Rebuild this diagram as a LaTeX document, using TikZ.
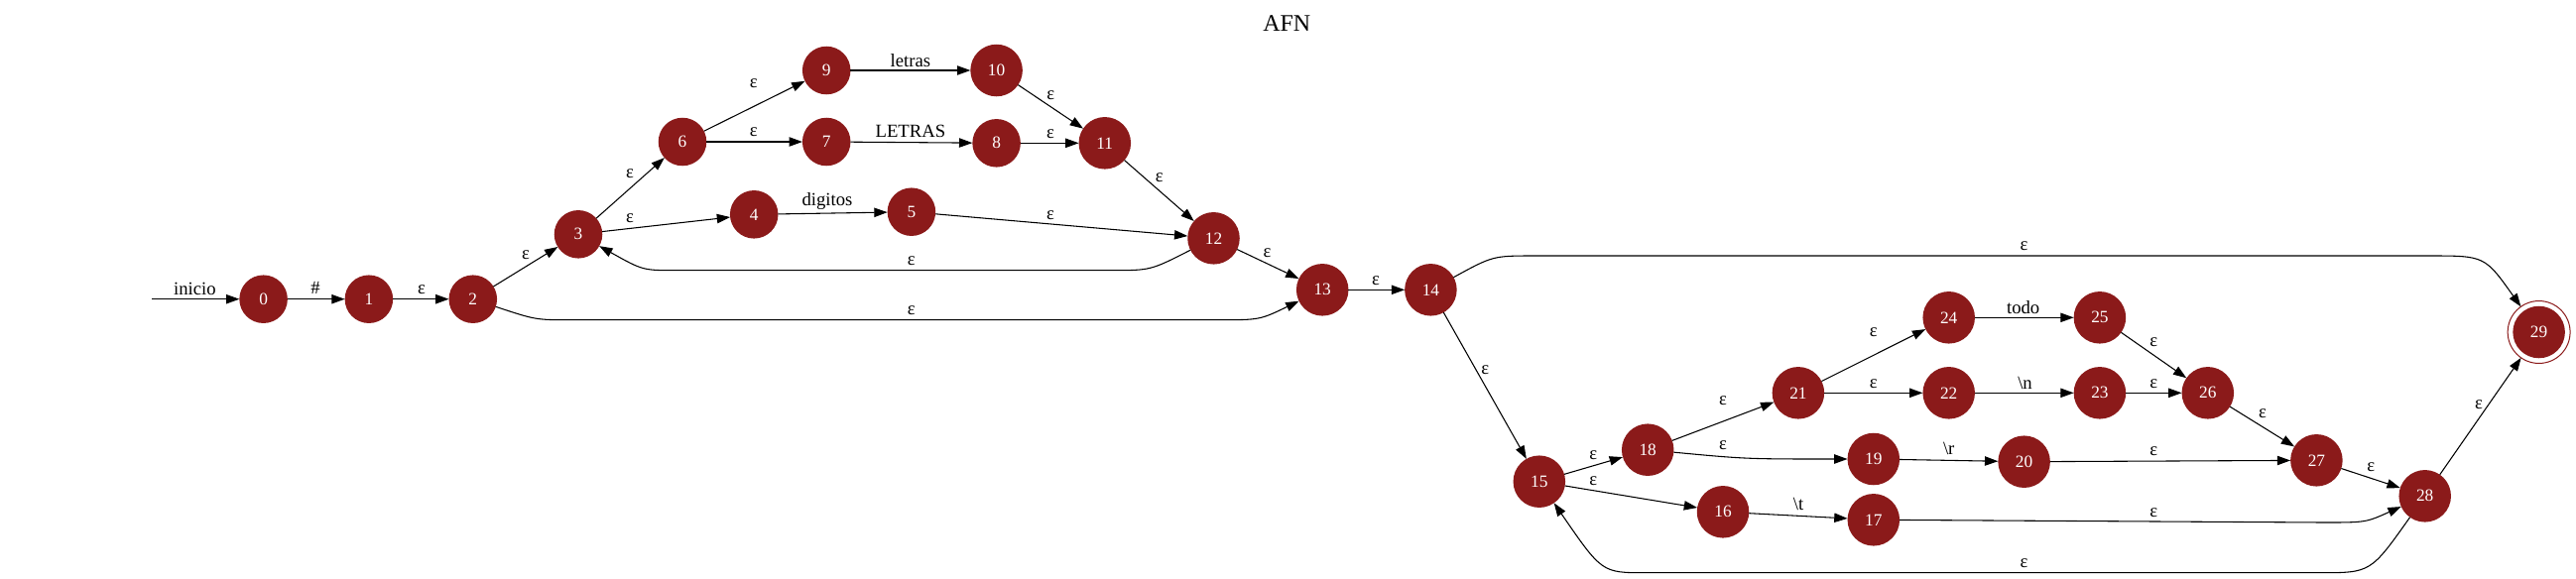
\documentclass[tikz,border=0pt]{standalone}
\usepackage{fontspec}
\setmainfont{Liberation Serif}
\usetikzlibrary{arrows.meta}
\definecolor{nodered}{RGB}{139,26,26}
\newcommand{\lblfont}{\fontsize{14}{16}\selectfont}
\newcommand{\stfont}{\fontsize{13}{15}\selectfont}
\begin{document}
\begin{tikzpicture}[x=0.75pt,y=-0.75pt,
  st/.style={circle, fill=nodered, text=white, inner sep=0pt, outer sep=0pt, minimum size=36.4pt, font=\stfont},
  stw/.style={st, minimum size=39.4pt},
  acc/.style={circle, draw=nodered, line width=0.75pt, fill=white, text=white, inner sep=0pt, outer sep=0pt,
    minimum size=47.2pt, font=\stfont,
    path picture={\fill[nodered] (path picture bounding box.center) circle (19.7pt);}},
  arr/.style={-{Triangle[length=10pt,width=7pt]}, line width=0.8pt},
  lbl/.style={font=\lblfont, inner sep=0pt}]
\useasboundingbox (0,0) rectangle (2597,583);
\node[font=\fontsize{18}{20}\selectfont] (title) at (1297.3,23.3) {AFN};
% states
\node[st] (n0) at (265.6,301.7) {0};
\node[st] (n1) at (371.9,301.7) {1};
\node[st] (n2) at (476.8,301.7) {2};
\node[st] (n3) at (583,236.3) {3};
\node[st] (n4) at (760.2,216.3) {4};
\node[st] (n5) at (918.9,213.7) {5};
\node[st] (n6) at (688,143) {6};
\node[st] (n7) at (833.2,143) {7};
\node[st] (n8) at (1004.6,144.3) {8};
\node[st] (n9) at (833.2,71) {9};
\node[stw] (n10) at (1004.6,71) {10};
\node[stw] (n11) at (1113.8,144.3) {11};
\node[stw] (n12) at (1223.5,240.3) {12};
\node[stw] (n13) at (1333.2,292.3) {13};
\node[stw] (n14) at (1442.4,292.3) {14};
\node[stw] (n15) at (1551.8,485.7) {15};
\node[stw] (n16) at (1737,516.3) {16};
\node[stw] (n17) at (1888.8,524.3) {17};
\node[stw] (n18) at (1661.2,453.7) {18};
\node[stw] (n19) at (1888.8,463) {19};
\node[stw] (n20) at (2040.6,465.7) {20};
\node[stw] (n21) at (1812.9,396.3) {21};
\node[stw] (n22) at (1964.7,396.3) {22};
\node[stw] (n23) at (2116.9,396.3) {23};
\node[stw] (n24) at (1964.7,320.3) {24};
\node[stw] (n25) at (2116.9,320.3) {25};
\node[stw] (n26) at (2225.8,396.3) {26};
\node[stw] (n27) at (2335.4,464.3) {27};
\node[stw] (n28) at (2444.7,500.3) {28};
\node[acc] (n29) at (2559.6,335) {29};
% start
\coordinate (s) at (153,301.7);
\draw[arr] (s) -- (n0) node[lbl] at (196.4,291.7) {inicio};
% edges
\draw[arr] (n0) -- (n1) node[lbl] at (318,290.7) {\#};
\draw[arr] (n1) -- (n2) node[lbl] at (425,292) {ε};
\draw[arr] (n2) -- (n3) node[lbl] at (530,257) {ε};
\draw[arr] (n2) .. controls (540,322.7) .. (575.9,322.7) -- (1227.6,322.7) .. controls (1270,322.7) .. (n13)
  node[lbl] at (918.9,313.3) {ε};
\draw[arr] (n3) -- (n6) node[lbl] at (635,175) {ε};
\draw[arr] (n3) -- (n4) node[lbl] at (635,220) {ε};
\draw[arr] (n6) -- (n9) node[lbl] at (759.7,84.3) {ε};
\draw[arr] (n6) -- (n7) node[lbl] at (759.7,133.3) {ε};
\draw[arr] (n9) -- (n10) node[lbl] at (917.9,60.7) {letras};
\draw[arr] (n7) -- (n8) node[lbl] at (917.9,132.3) {LETRAS};
\draw[arr] (n10) -- (n11) node[lbl] at (1059.2,95.7) {ε};
\draw[arr] (n8) -- (n11) node[lbl] at (1059,135) {ε};
\draw[arr] (n4) -- (n5) node[lbl] at (834,203.3) {digitos};
\draw[arr] (n5) -- (n12) node[lbl] at (1059,216.7) {ε};
\draw[arr] (n11) -- (n12) node[lbl] at (1168.9,179) {ε};
\draw[arr] (n12) .. controls (1160,272.7) .. (1120.4,272.7) -- (681.6,272.7) .. controls (648,272.7) .. (n3)
  node[lbl] at (918.9,263.3) {ε};
\draw[arr] (n12) -- (n13) node[lbl] at (1277.6,255.3) {ε};
\draw[arr] (n13) -- (n14) node[lbl] at (1387,283.3) {ε};
\draw[arr] (n14) .. controls (1505,258) .. (1547.3,258) -- (2449.2,258) .. controls (2505,258) .. (n29)
  node[lbl] at (2040.6,248.3) {ε};
\draw[arr] (n14) -- (n15) node[lbl] at (1497.3,373) {ε};
\draw[arr] (n15) -- (n18) node[lbl] at (1606.2,458.7) {ε};
\draw[arr] (n15) -- (n16) node[lbl] at (1606.2,485) {ε};
\draw[arr] (n18) -- (n21) node[lbl] at (1737,404) {ε};
\draw[arr] (n18) .. controls (1760,463) .. (n19) node[lbl] at (1737,448.7) {ε};
\draw[arr] (n21) -- (n24) node[lbl] at (1888.8,335) {ε};
\draw[arr] (n21) -- (n22) node[lbl] at (1888.8,387.3) {ε};
\draw[arr] (n24) -- (n25) node[lbl] at (2039.7,310) {todo};
\draw[arr] (n22) -- (n23) node[lbl] at (2041.5,386) {\textbackslash n};
\draw[arr] (n19) -- (n20) node[lbl] at (1964.7,452.3) {\textbackslash r};
\draw[arr] (n16) -- (n17) node[lbl] at (1813,508.3) {\textbackslash t};
\draw[arr] (n25) -- (n26) node[lbl] at (2171.3,345) {ε};
\draw[arr] (n23) -- (n26) node[lbl] at (2171.3,387.3) {ε};
\draw[arr] (n26) -- (n27) node[lbl] at (2281,417) {ε};
\draw[arr] (n20) -- (n27) node[lbl] at (2171.3,455) {ε};
\draw[arr] (n17) -- (2342.6,527) .. controls (2385,527) .. (n28) node[lbl] at (2171.3,516.7) {ε};
\draw[arr] (n27) -- (n28) node[lbl] at (2390.2,471) {ε};
\draw[arr] (n28) -- (n29) node[lbl] at (2499,408.3) {ε};
\draw[arr] (n28) .. controls (2390,577.7) .. (2338.8,577.7) -- (1659,577.7) .. controls (1615,577.7) .. (n15)
  node[lbl] at (2040.6,568.3) {ε};
\end{tikzpicture}
\end{document}
